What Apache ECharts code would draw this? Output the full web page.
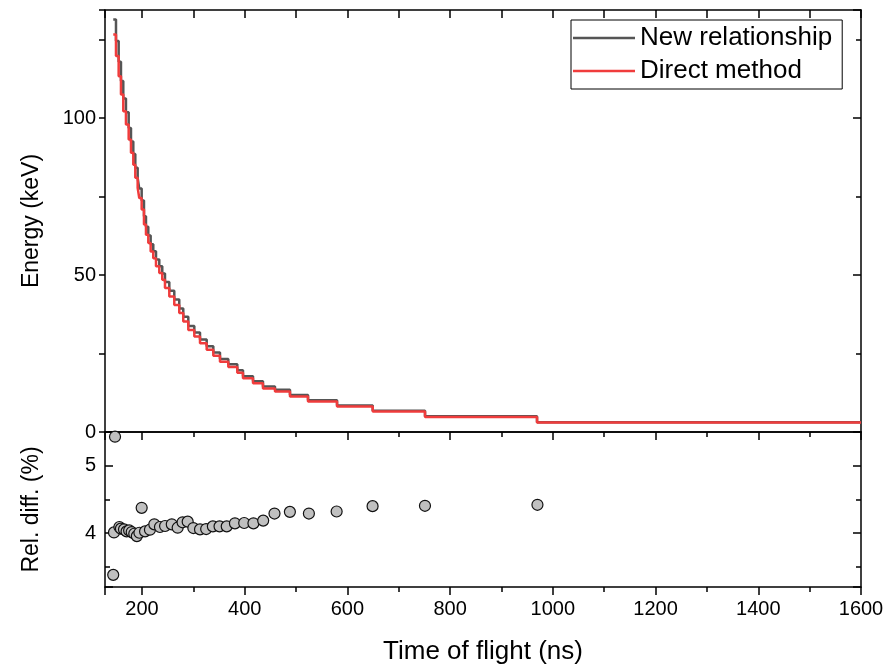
<!DOCTYPE html>
<html><head><meta charset="utf-8">
<script src="https://cdn.jsdelivr.net/npm/echarts@6/dist/echarts.min.js"></script>
<style>html,body{margin:0;padding:0;background:#fff}#c{width:888px;height:670px}</style>
</head><body><div id="c"></div>
<script>
// Step start times (ns) of the energy staircase; last entry is the right edge
const stepTimes = [144.1,149.4,154.6,159.1,163.6,168.8,174.1,178.6,183.1,187.0,191.6,194.7,199.4,203.9,207.8,212.3,216.9,222.0,227.3,233.7,239.5,244.8,253.2,262.9,272.6,280.4,290.2,301.9,313.0,326.0,338.9,351.9,368.1,385.6,396.7,416.2,435.6,459.0,488.2,523.3,579.8,649.3,751.1,969.2,1600];
// Energy (keV) — Direct method
const directEnergy = [126.7,119.8,113.4,107.6,102.2,98.0,93.2,89.0,85.2,81.0,77.8,74.6,70.9,66.1,62.9,60.2,57.5,55.4,52.8,50.7,48.5,45.9,43.2,40.5,37.9,35.2,32.5,30.4,28.3,26.2,24.3,22.4,20.7,18.9,17.1,15.5,13.9,12.9,11.3,9.7,8.1,6.5,4.8,3.0,3.0];
// Energy (keV) — New relationship
const newEnergy = [131.5,124.6,118.0,111.9,106.3,101.9,96.9,92.6,88.6,84.2,80.9,77.6,73.8,68.8,65.4,62.6,59.8,57.6,55.0,52.8,50.5,47.8,45.0,42.2,39.4,36.7,33.8,31.7,29.5,27.3,25.3,23.3,21.6,19.7,17.8,16.2,14.5,13.5,11.8,10.1,8.45,6.8,5.0,3.13,3.13];
// Relative difference (%) points
const diffTimes = [144,145.5,147.5,156,159,165,170,175,180,185,190,195,199.4,206,215.5,224,235,245,258,269.5,279,289,300,313,325,338,351,365,381,399,417,436,458,488,525,579,649,751,970];
const diffValues = [3.38,4.01,5.43,4.09,4.066,4.055,4.025,4.04,4.015,3.99,3.955,4.005,4.375,4.025,4.05,4.13,4.09,4.105,4.13,4.08,4.16,4.17,4.075,4.055,4.06,4.10,4.10,4.10,4.145,4.15,4.145,4.185,4.29,4.315,4.29,4.32,4.40,4.405,4.42];
// Tick labels
const xTickLabels = [200,400,600,800,1000,1200,1400,1600];
const energyTickLabels = [0,50,100];
const diffTickLabels = [4,5];

const FONT = 'Liberation Sans, Arial, sans-serif';
const BLACK = '#000';
const GRAY = '#555555';
const RED = '#f03c3c';
const lineAx = {show:true, onZero:false, lineStyle:{color:BLACK, width:1.5}};
const noLbl = {show:false};

function fmt(list){ return v => list.indexOf(Math.round(v*1000)/1000) >= 0 ? String(v) : ''; }

const chart = echarts.init(document.getElementById('c'), null, {renderer:'canvas'});
chart.setOption({
  animation:false,
  backgroundColor:'#fff',
  textStyle:{fontFamily:FONT},
  grid:[
    {left:105, width:756, top:10, height:422},
    {left:105, width:756, top:432, height:155}
  ],
  legend:{
    orient:'vertical', left:571, top:20,
    borderColor:BLACK, borderWidth:1, borderRadius:0,
    padding:[4,10,4,2], itemGap:5, itemWidth:62, itemHeight:2.5,
    icon:'rect',
    textStyle:{fontSize:26, lineHeight:28, color:BLACK, fontFamily:FONT},
    data:[{name:'New relationship', itemStyle:{color:GRAY}}, {name:'Direct method', itemStyle:{color:RED}}]
  },
  xAxis:[
    {gridIndex:0, type:'value', min:128, max:1600, splitNumber:7, position:'bottom',
     axisLine:lineAx, axisTick:{show:false}, axisLabel:noLbl, splitLine:{show:false}},
    {gridIndex:0, type:'value', min:128, max:1600, splitNumber:7, position:'top',
     axisLine:lineAx, axisTick:{show:true, inside:true, length:8, lineStyle:{color:BLACK,width:1.5}},
     minorTick:{show:true, splitNumber:2, length:8, lineStyle:{color:BLACK,width:1.5}},
     axisLabel:noLbl, splitLine:{show:false}},
    {gridIndex:1, type:'value', min:128, max:1600, splitNumber:7, position:'bottom',
     axisLine:lineAx, axisTick:{show:true, inside:false, length:8, lineStyle:{color:BLACK,width:1.5}},
     minorTick:{show:true, splitNumber:2, length:5, lineStyle:{color:BLACK,width:1.5}},
     axisLabel:{show:true, margin:12, fontSize:20, color:BLACK, fontFamily:FONT, formatter:fmt(xTickLabels)},
     splitLine:{show:false},
     name:'Time of flight (ns)', nameLocation:'middle', nameGap:52,
     nameTextStyle:{fontSize:26, color:BLACK, fontFamily:FONT}},
    {gridIndex:1, type:'value', min:128, max:1600, splitNumber:7, position:'top',
     axisLine:lineAx, axisTick:{show:true, inside:true, length:8, lineStyle:{color:BLACK,width:1.5}},
     minorTick:{show:true, splitNumber:2, length:5, lineStyle:{color:BLACK,width:1.5}},
     axisLabel:noLbl, splitLine:{show:false}}
  ],
  yAxis:[
    {gridIndex:0, type:'value', min:0, max:134.5, interval:50, position:'left',
     axisLine:lineAx, axisTick:{show:true, inside:false, length:6, lineStyle:{color:BLACK,width:1.5}},
     minorTick:{show:true, splitNumber:2, length:6, lineStyle:{color:BLACK,width:1.5}},
     axisLabel:{show:true, margin:9, fontSize:20, color:BLACK, fontFamily:FONT, formatter:fmt(energyTickLabels)},
     splitLine:{show:false},
     name:'Energy (keV)', nameLocation:'middle', nameGap:62, nameRotate:90,
     nameTextStyle:{fontSize:23, color:BLACK, fontFamily:FONT}},
    {gridIndex:0, type:'value', min:0, max:134.5, interval:50, position:'right',
     axisLine:lineAx, axisTick:{show:true, inside:true, length:8, lineStyle:{color:BLACK,width:1.5}},
     minorTick:{show:true, splitNumber:2, length:5, lineStyle:{color:BLACK,width:1.5}},
     axisLabel:noLbl, splitLine:{show:false}},
    {gridIndex:1, type:'value', min:3.2, max:5.5, splitNumber:2, position:'left',
     axisLine:lineAx, axisTick:{show:true, inside:true, length:8, lineStyle:{color:BLACK,width:1.5}},
     minorTick:{show:true, splitNumber:2, length:5, lineStyle:{color:BLACK,width:1.5}},
     axisLabel:{show:true, margin:9, fontSize:20, color:BLACK, fontFamily:FONT, formatter:fmt(diffTickLabels)},
     splitLine:{show:false},
     name:'Rel. diff. (%)', nameLocation:'middle', nameGap:62, nameRotate:90,
     nameTextStyle:{fontSize:23, color:BLACK, fontFamily:FONT}},
    {gridIndex:1, type:'value', min:3.2, max:5.5, splitNumber:2, position:'right',
     axisLine:lineAx, axisTick:{show:true, inside:true, length:8, lineStyle:{color:BLACK,width:1.5}},
     minorTick:{show:true, splitNumber:2, length:5, lineStyle:{color:BLACK,width:1.5}},
     axisLabel:noLbl, splitLine:{show:false}}
  ],
  series:[
    {name:'New relationship', type:'line', step:'end', xAxisIndex:0, yAxisIndex:0,
     symbol:'none', showSymbol:false, z:2,
     lineStyle:{color:GRAY, width:2.5}, itemStyle:{color:GRAY},
     data: stepTimes.map((t,i)=>[t,newEnergy[i]])},
    {name:'Direct method', type:'line', step:'end', xAxisIndex:0, yAxisIndex:0,
     symbol:'none', showSymbol:false, z:3,
     lineStyle:{color:RED, width:2.5}, itemStyle:{color:RED},
     data: stepTimes.map((t,i)=>[t,directEnergy[i]])},
    {name:'Rel. diff.', type:'scatter', xAxisIndex:2, yAxisIndex:2,
     symbol:'circle', symbolSize:11, z:4,
     itemStyle:{color:'#c0c0c0', borderColor:'#111', borderWidth:1.2, opacity:1},
     data: diffTimes.map((t,i)=>[t,diffValues[i]])}
  ]
});
</script></body></html>
